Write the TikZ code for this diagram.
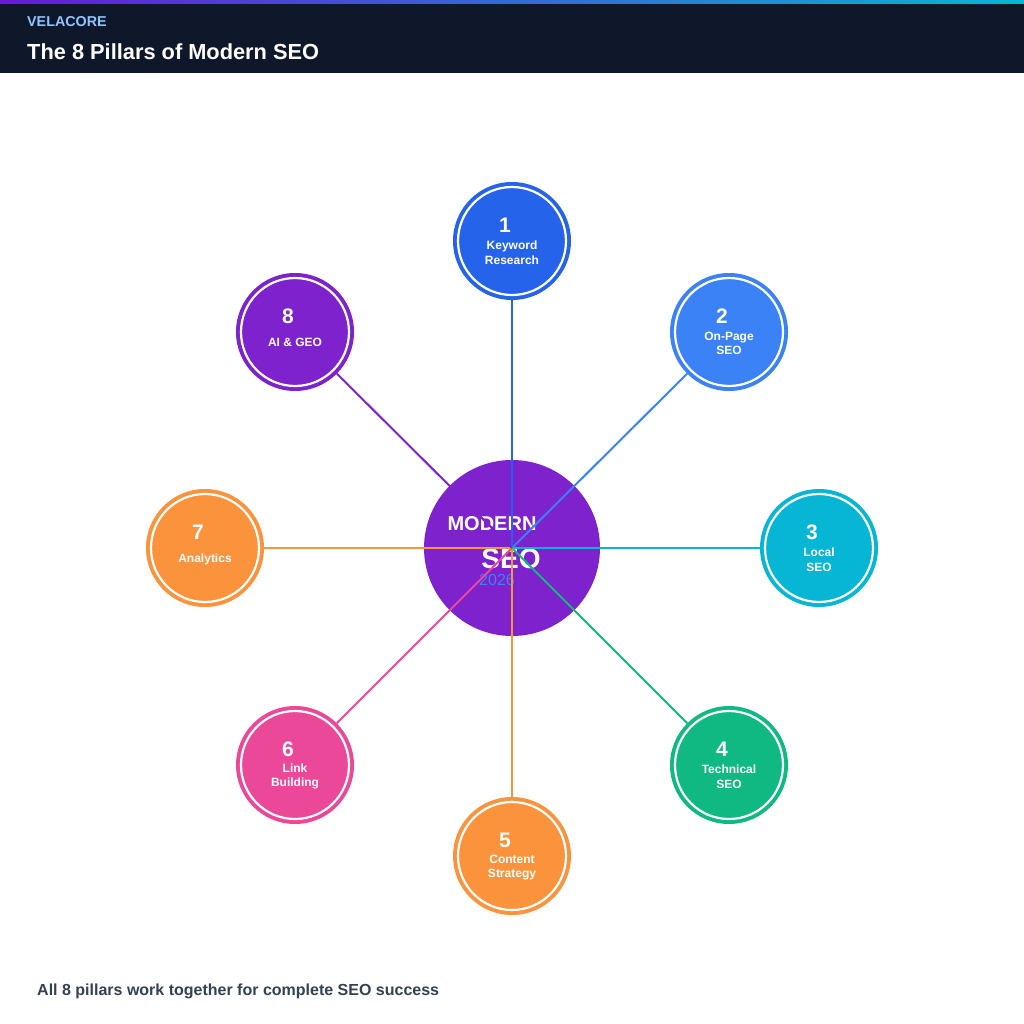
\documentclass[tikz,border=0pt]{standalone}
\usepackage{fontspec}
\setmainfont{Liberation Sans}
\usetikzlibrary{positioning}

\definecolor{headbg}{HTML}{0F172A}
\definecolor{brandc}{HTML}{93C5FD}
\definecolor{footc}{HTML}{334155}
\definecolor{corec}{HTML}{7E22CE}
\definecolor{yearc}{HTML}{3B82F6}
\definecolor{kwc}{HTML}{2563EB}
\definecolor{opc}{HTML}{3B82F6}
\definecolor{locc}{HTML}{06B6D4}
\definecolor{techc}{HTML}{10B981}
\definecolor{contc}{HTML}{FB923C}
\definecolor{linkc}{HTML}{EC4899}
\definecolor{anac}{HTML}{FB923C}
\definecolor{aic}{HTML}{7E22CE}

\tikzset{
  pillar/.style={circle, fill=#1, minimum size=118pt, inner sep=0pt,
    path picture={\draw[white, line width=2.2pt] (path picture bounding box.center) circle (54pt);}},
  pnum/.style={text=white, inner sep=0pt, font=\fontsize{21}{21}\selectfont\bfseries},
  ptext/.style={text=white, inner sep=0pt, align=center, font=\fontsize{12}{14.5}\selectfont\bfseries},
  link/.style={draw=#1, line width=2pt},
}

\begin{document}
\begin{tikzpicture}[x=1pt, y=-1pt]
  \useasboundingbox (0,0) rectangle (1024,1024);
  \fill[white] (0,0) rectangle (1024,1024);

  % header
  \fill[headbg] (0,0) rectangle (1024,73);
  \shade[left color=corec!80!blue, middle color=yearc, right color=locc] (0,0) rectangle (1024,4);
  \node[anchor=base west, inner sep=0pt, text=brandc, font=\fontsize{14.3}{14}\selectfont\bfseries] (brand) at (27,27) {VELACORE};
  \node[anchor=base west, inner sep=0pt, text=white, font=\fontsize{21.8}{22}\selectfont\bfseries] (title) at (27,60) {The 8 Pillars of Modern SEO};

  % hub
  \node[circle, fill=corec, minimum size=176pt, inner sep=0pt] (core) at (512,548) {};
  \node[inner sep=0pt, text=white, font=\fontsize{20}{20}\selectfont\bfseries] (core-top) at (492,524) {MODERN};
  \node[inner sep=0pt, text=white, font=\fontsize{28}{28}\selectfont\bfseries] (core-mid) at (511,559) {SEO};
  \node[inner sep=0pt, text=yearc, font=\fontsize{16}{16}\selectfont] (core-year) at (497,580) {2026};

  % pillars
  \node[pillar=kwc] (keyword) at (512,241) {};
  \node[pnum] (keyword-num) at ([xshift=-7pt, yshift=15.5pt]keyword.center) {1};
  \node[ptext] (keyword-txt) at ([yshift=-11.5pt]keyword.center) {Keyword\\Research};

  \node[pillar=opc] (onpage) at (729,332) {};
  \node[pnum] (onpage-num) at ([xshift=-7pt, yshift=15.5pt]onpage.center) {2};
  \node[ptext] (onpage-txt) at ([yshift=-11.5pt]onpage.center) {On-Page\\SEO};

  \node[pillar=locc] (local) at (819,548) {};
  \node[pnum] (local-num) at ([xshift=-7pt, yshift=15.5pt]local.center) {3};
  \node[ptext] (local-txt) at ([yshift=-11.5pt]local.center) {Local\\SEO};

  \node[pillar=techc] (technical) at (729,765) {};
  \node[pnum] (technical-num) at ([xshift=-7pt, yshift=15.5pt]technical.center) {4};
  \node[ptext] (technical-txt) at ([yshift=-11.5pt]technical.center) {Technical\\SEO};

  \node[pillar=contc] (content) at (512,856) {};
  \node[pnum] (content-num) at ([xshift=-7pt, yshift=15.5pt]content.center) {5};
  \node[ptext] (content-txt) at ([yshift=-11.5pt]content.center) {Content\\Strategy};

  \node[pillar=linkc] (linkbuild) at (295,765) {};
  \node[pnum] (linkbuild-num) at ([xshift=-7pt, yshift=15.5pt]linkbuild.center) {6};
  \node[ptext] (linkbuild-txt) at ([yshift=-11.5pt]linkbuild.center) {Link\\Building};

  \node[pillar=anac] (analytics) at (205,548) {};
  \node[pnum] (analytics-num) at ([xshift=-7pt, yshift=15.5pt]analytics.center) {7};
  \node[ptext] (analytics-txt) at ([yshift=-11pt]analytics.center) {Analytics};

  \node[pillar=aic] (aigeo) at (295,332) {};
  \node[pnum] (aigeo-num) at ([xshift=-7pt, yshift=15.5pt]aigeo.center) {8};
  \node[ptext] (aigeo-txt) at ([yshift=-10pt]aigeo.center) {AI \& GEO};

  % spokes
  \draw[link=kwc] (core.center) -- (keyword);
  \draw[link=opc] (core.center) -- (onpage);
  \draw[link=locc] (core.center) -- (local);
  \draw[link=techc] (core.center) -- (technical);
  \draw[link=contc] (core.center) -- (content);
  \draw[link=linkc] (core.center) -- (linkbuild);
  \draw[link=anac] (core.center) -- (analytics);
  \draw[link=aic] (core.center) -- (aigeo);

  % footer
  \node[anchor=base west, inner sep=0pt, text=footc, font=\fontsize{16}{16}\selectfont\bfseries] (footer) at (37,995) {All 8 pillars work together for complete SEO success};
\end{tikzpicture}
\end{document}
